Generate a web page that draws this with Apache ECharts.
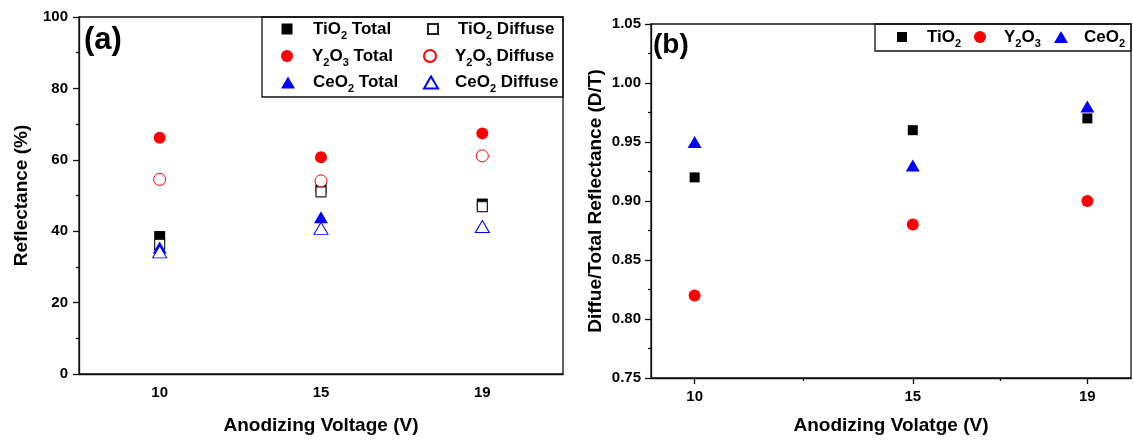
<!DOCTYPE html>
<html>
<head>
<meta charset="utf-8">
<script src="https://cdn.jsdelivr.net/npm/echarts@6/dist/echarts.min.js"></script>
<style>
html,body{margin:0;padding:0;background:#fff;}
#chart{width:1133px;height:441px;}
</style>
</head>
<body>
<div id="chart"></div>
<script>
// ---------- DATA ----------
// Panel (a): reflectance (%) vs anodizing voltage (categorical, equally spaced)
var voltageCats = ['10', '15', '19'];
var tio2Total   = [38.5, 52.2, 47.6];
var tio2Diffuse = [36.3, 51.0, 46.9];
var y2o3Total   = [66.2, 60.7, 67.4];
var y2o3Diffuse = [54.5, 54.1, 61.1];
var ceo2Total   = [35.4, 43.9, 41.4];
var ceo2Diffuse = [34.2, 40.8, 41.3];
var yTicksA = { min: 0, max: 100, interval: 20 };

// Panel (b): diffuse/total ratio vs anodizing voltage (linear axis)
var voltageB = [10, 15, 19];
var tio2DT = [0.92, 0.96, 0.97];
var y2o3DT = [0.82, 0.88, 0.90];
var ceo2DT = [0.95, 0.93, 0.98];
var xMajorB = [10, 15, 19];
var xMinorB = [12.5, 17];
var yTicksB = { min: 0.75, max: 1.05, interval: 0.05 };

// ---------- STYLE ----------
var FONT = '"Liberation Sans", Arial, sans-serif';
var AX = '#111';
var LABEL = { color: '#000', fontFamily: FONT, fontWeight: 'bold', fontSize: 15 };
var NAME = { color: '#000', fontFamily: FONT, fontWeight: 'bold', fontSize: 19 };

function pairs(xs, ys) { return xs.map(function (x, i) { return [x, ys[i]]; }); }

function richName(name) {
  var parts = name.split(/(\d)/);
  var out = '', first = true;
  parts.forEach(function (p) {
    if (p === '') return;
    if (/^\d$/.test(p)) out += '{s|' + p + '}';
    else { out += (first ? '{f|' : '{a|') + p + '}'; first = false; }
  });
  return out;
}
function makeRich(pad) {
  var base = { fontFamily: FONT, fontWeight: 'bold', fontSize: 17, color: '#000', lineHeight: 18, verticalAlign: 'middle' };
  return {
    f: Object.assign({}, base, { padding: [0, 0, 0, pad] }),
    a: base,
    s: { fontFamily: FONT, fontWeight: 'bold', fontSize: 11, color: '#000', lineHeight: 2, padding: [10, 0, 0, 0], verticalAlign: 'top' }
  };
}
function leg(name, cx, cy, tx, w, h) {
  var pad = tx - (cx + w / 2 + 5);
  return {
    show: true, selectedMode: false, data: [name], orient: 'horizontal',
    left: cx - w / 2, top: cy - 9, itemWidth: w, itemHeight: h, padding: 0,
    formatter: function (n) { return richName(n); },
    textStyle: { rich: makeRich(pad) }
  };
}

function sc(name, xi, yi, data, symbol, size, fill, stroke, bw) {
  return {
    type: 'scatter', name: name, xAxisIndex: xi, yAxisIndex: yi, data: data,
    symbol: symbol, symbolSize: size,
    itemStyle: { color: fill, borderColor: stroke, borderWidth: bw, opacity: 1 },
    emphasis: { disabled: true }, silent: true
  };
}

var chart = echarts.init(document.getElementById('chart'), null, { renderer: 'canvas' });

var option = {
  animation: false,
  backgroundColor: '#fff',
  grid: [
    { left: 79, top: 17, width: 484, height: 357, show: true, borderColor: AX, borderWidth: 1.3, backgroundColor: 'transparent' },
    { left: 651, top: 24, width: 480, height: 354, show: true, borderColor: AX, borderWidth: 1.3, backgroundColor: 'transparent' }
  ],
  xAxis: [
    {
      type: 'category', gridIndex: 0, data: voltageCats, boundaryGap: true,
      axisLine: { lineStyle: { color: AX, width: 1.3 } },
      axisTick: { alignWithLabel: true, length: 6, inside: false, lineStyle: { color: AX, width: 1.3 } },
      axisLabel: Object.assign({ margin: 11 }, LABEL),
      splitLine: { show: false },
      name: 'Anodizing Voltage (V)', nameLocation: 'middle', nameGap: 42, nameTextStyle: NAME
    },
    {
      type: 'category', gridIndex: 0, data: voltageCats, boundaryGap: true, position: 'bottom',
      axisLine: { show: false },
      axisTick: { alignWithLabel: false, length: 3, lineStyle: { color: AX, width: 1.3 } },
      axisLabel: { show: false }, splitLine: { show: false }
    },
    {
      type: 'value', gridIndex: 1, min: 9, max: 20,
      axisLine: { lineStyle: { color: AX, width: 1.3 } },
      axisTick: { customValues: xMajorB, length: 6, lineStyle: { color: AX, width: 1.3 } },
      axisLabel: Object.assign({ customValues: xMajorB, margin: 11 }, LABEL),
      splitLine: { show: false },
      name: 'Anodizing Volatge (V)', nameLocation: 'middle', nameGap: 38, nameTextStyle: NAME
    },
    {
      type: 'value', gridIndex: 1, min: 9, max: 20, position: 'bottom',
      axisLine: { show: false },
      axisTick: { customValues: xMinorB, length: 3, lineStyle: { color: AX, width: 1.3 } },
      axisLabel: { show: false }, splitLine: { show: false }
    }
  ],
  yAxis: [
    {
      type: 'value', gridIndex: 0, min: yTicksA.min, max: yTicksA.max, interval: yTicksA.interval,
      axisLine: { show: true, lineStyle: { color: AX, width: 1.3 } },
      axisTick: { show: true, length: 6, lineStyle: { color: AX, width: 1.3 } },
      minorTick: { show: true, splitNumber: 2, length: 3, lineStyle: { color: AX, width: 1.3 } },
      axisLabel: Object.assign({ margin: 11 }, LABEL),
      splitLine: { show: false }, minorSplitLine: { show: false },
      name: 'Reflectance (%)', nameLocation: 'middle', nameGap: 48, nameTextStyle: NAME
    },
    {
      type: 'value', gridIndex: 1, min: yTicksB.min, max: yTicksB.max, interval: yTicksB.interval,
      axisLine: { show: true, lineStyle: { color: AX, width: 1.3 } },
      axisTick: { show: true, length: 6, lineStyle: { color: AX, width: 1.3 } },
      minorTick: { show: true, splitNumber: 2, length: 3, lineStyle: { color: AX, width: 1.3 } },
      axisLabel: Object.assign({ margin: 10, formatter: function (v) { return v.toFixed(2); } }, LABEL),
      splitLine: { show: false }, minorSplitLine: { show: false },
      name: 'Diffue/Total Reflectance (D/T)', nameLocation: 'middle', nameGap: 46, nameTextStyle: NAME
    }
  ],
  legend: [
    leg('TiO2 Total', 287, 29, 313, 11, 11),
    leg('TiO2 Diffuse', 432, 29, 457, 10, 10),
    leg('Y2O3 Total', 287, 56, 312, 12, 12),
    leg('Y2O3 Diffuse', 429, 56, 454, 12, 12),
    leg('CeO2 Total', 288, 82.5, 313, 14, 12),
    leg('CeO2 Diffuse', 430, 82.5, 454, 14, 12),
    leg('TiO2', 902, 37, 927, 10, 10),
    leg('Y2O3', 980, 37, 1004, 12, 12),
    leg('CeO2', 1061, 37, 1084, 14, 12)
  ],
  graphic: [
    { type: 'rect', shape: { x: 262, y: 17, width: 301, height: 80 }, style: { fill: 'none', stroke: AX, lineWidth: 1.3 }, silent: true },
    { type: 'rect', shape: { x: 875, y: 24, width: 256, height: 27 }, style: { fill: 'none', stroke: AX, lineWidth: 1.3 }, silent: true },
    { type: 'text', left: 84, top: 25, style: { text: '(a)', fill: '#000', font: 'bold 31px ' + FONT }, silent: true },
    { type: 'text', left: 653, top: 31, style: { text: '(b)', fill: '#000', font: 'bold 28px ' + FONT }, silent: true }
  ],
  series: [
    sc('TiO2 Total',   0, 0, pairs(voltageCats, tio2Total),   'rect',     11,       '#000', '#000', 0),
    sc('TiO2 Diffuse', 0, 0, pairs(voltageCats, tio2Diffuse), 'rect',     10,       '#fff', '#222', 1.2),
    sc('Y2O3 Total',   0, 0, pairs(voltageCats, y2o3Total),   'circle',   12,       '#ff0000', '#ff0000', 0),
    sc('Y2O3 Diffuse', 0, 0, pairs(voltageCats, y2o3Diffuse), 'circle',   12,       '#fff', '#ff0000', 1),
    sc('CeO2 Total',   0, 0, pairs(voltageCats, ceo2Total),   'triangle', [14, 12], '#0000ff', '#0000ff', 0),
    sc('CeO2 Diffuse', 0, 0, pairs(voltageCats, ceo2Diffuse), 'triangle', [14, 12], '#fff', '#0000ff', 1),
    sc('TiO2', 2, 1, pairs(voltageB, tio2DT), 'rect',     10,       '#000', '#000', 0),
    sc('Y2O3', 2, 1, pairs(voltageB, y2o3DT), 'circle',   12,       '#ff0000', '#ff0000', 0),
    sc('CeO2', 2, 1, pairs(voltageB, ceo2DT), 'triangle', [14, 12], '#0000ff', '#0000ff', 0)
  ]
};
chart.setOption(option);
</script>
</body>
</html>
